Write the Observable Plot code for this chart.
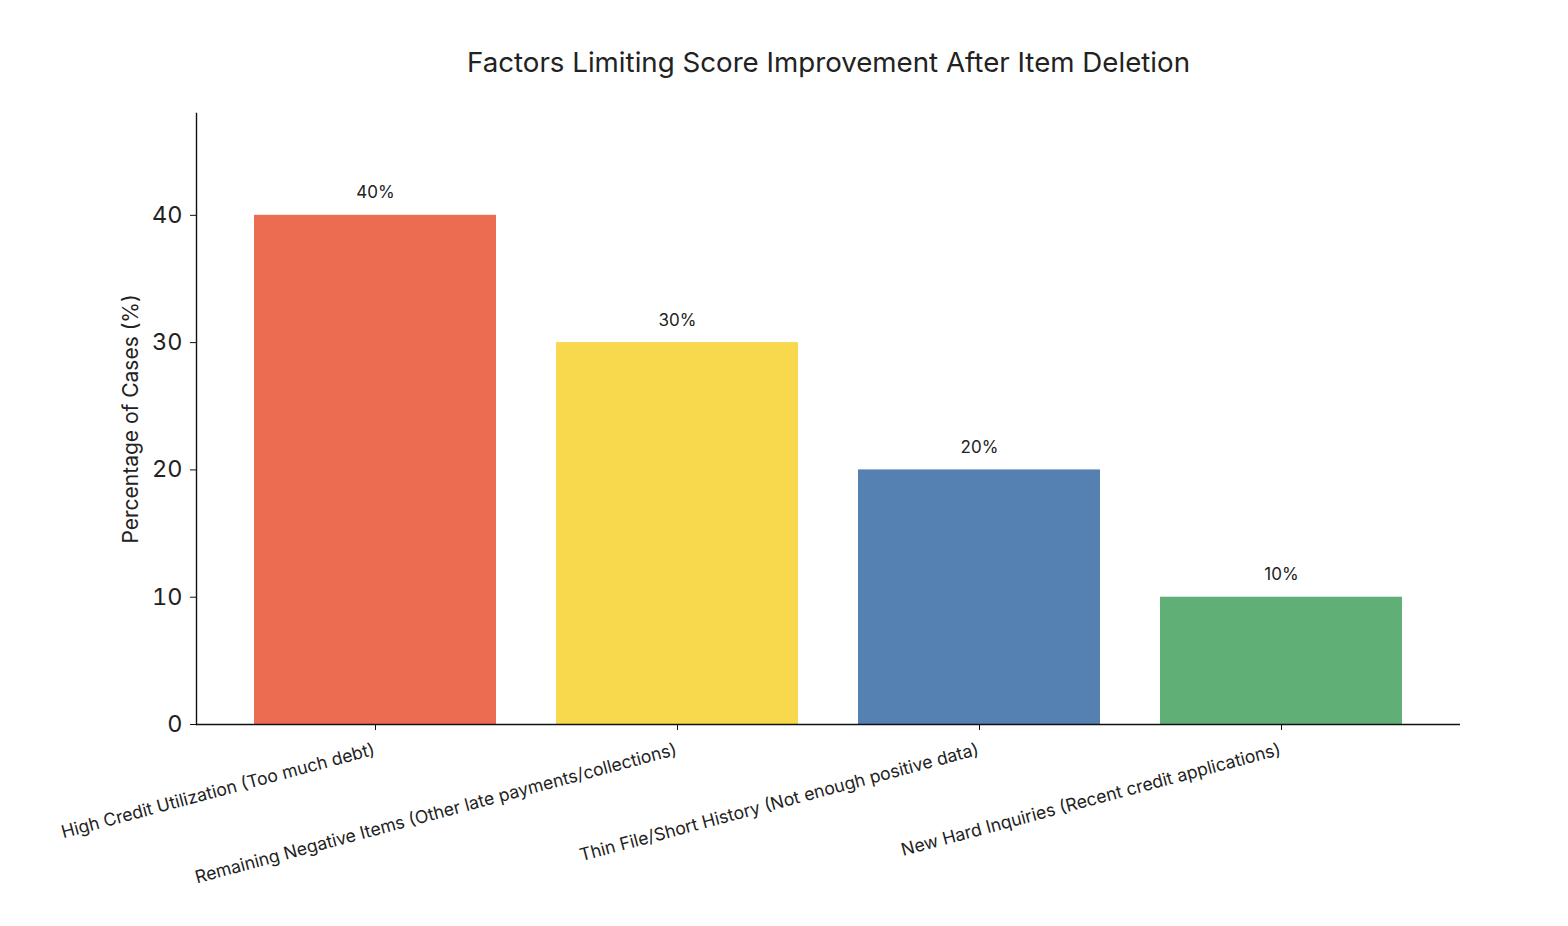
<!DOCTYPE html>
<html>
<head>
<meta charset="utf-8">
<script src="https://cdn.jsdelivr.net/npm/d3@7"></script>
<script src="https://cdn.jsdelivr.net/npm/@observablehq/plot@0.6"></script>
<style>
  body { margin: 0; background: #fff; }
  svg { display: block; }
</style>
</head>
<body>
<div id="chart"></div>
<script>
// Share of cases in which each factor limited score improvement
const categories = [
  "High Credit Utilization (Too much debt)",
  "Remaining Negative Items (Other late payments/collections)",
  "Thin File/Short History (Not enough positive data)",
  "New Hard Inquiries (Recent credit applications)"
];
const values = [40, 30, 20, 10];
const valueLabels = ["40%", "30%", "20%", "10%"];
const barColors = ["#EC6C52", "#F8D84C", "#5481B1", "#60AF77"];
const yTicks = [0, 10, 20, 30, 40];
const title = "Factors Limiting Score Improvement After Item Deletion";
const yLabel = "Percentage of Cases (%)";

const data = categories.map((c, i) => ({ category: c, value: values[i], label: valueLabels[i] }));

const chart = Plot.plot({
  width: 1568,
  height: 926,
  marginTop: 113,
  marginBottom: 202,
  marginLeft: 196,
  marginRight: 108,
  style: { fontFamily: "Inter, 'Noto Sans', sans-serif", background: "#fff", color: "#222" },
  x: { domain: categories, paddingInner: 0.2, paddingOuter: 0.19, align: 0.5, label: null },
  y: { domain: [0, 48], label: null },
  color: { domain: categories, range: barColors },
  marks: [
    Plot.barY(data, { x: "category", y: "value", fill: "category" }),
    Plot.text(data, { x: "category", y: "value", text: "label", lineAnchor: "bottom", dy: -17, fontSize: 17, fill: "#222" }),
    Plot.axisY({ ticks: yTicks, tickSize: 6, tickPadding: 8, fontSize: 23.5, label: null, stroke: "#111" }),
    Plot.text([yLabel], { frameAnchor: "left", textAnchor: "middle", dx: -65, rotate: -90, fontSize: 21, fill: "#222" }),
    // tick marks at the bar centres
    Plot.axisX({ tickSize: 6, text: null, label: null, stroke: "#111" }),
    // slanted category labels, right-aligned under each tick
    Plot.axisX({ tickSize: 0, tickRotate: -15, textAnchor: "end", lineAnchor: "top", tickPadding: 14, dx: -3, dy: 4, fontSize: 17.6, label: null }),
    Plot.ruleY([0], { stroke: "#111", strokeWidth: 1.4 }),
    Plot.frame({ anchor: "left", stroke: "#111", strokeWidth: 1.4 }),
    Plot.text([title], { frameAnchor: "top", dy: -61, fontSize: 27.7, fill: "#222" })
  ]
});

document.getElementById("chart").appendChild(chart);
</script>
</body>
</html>
